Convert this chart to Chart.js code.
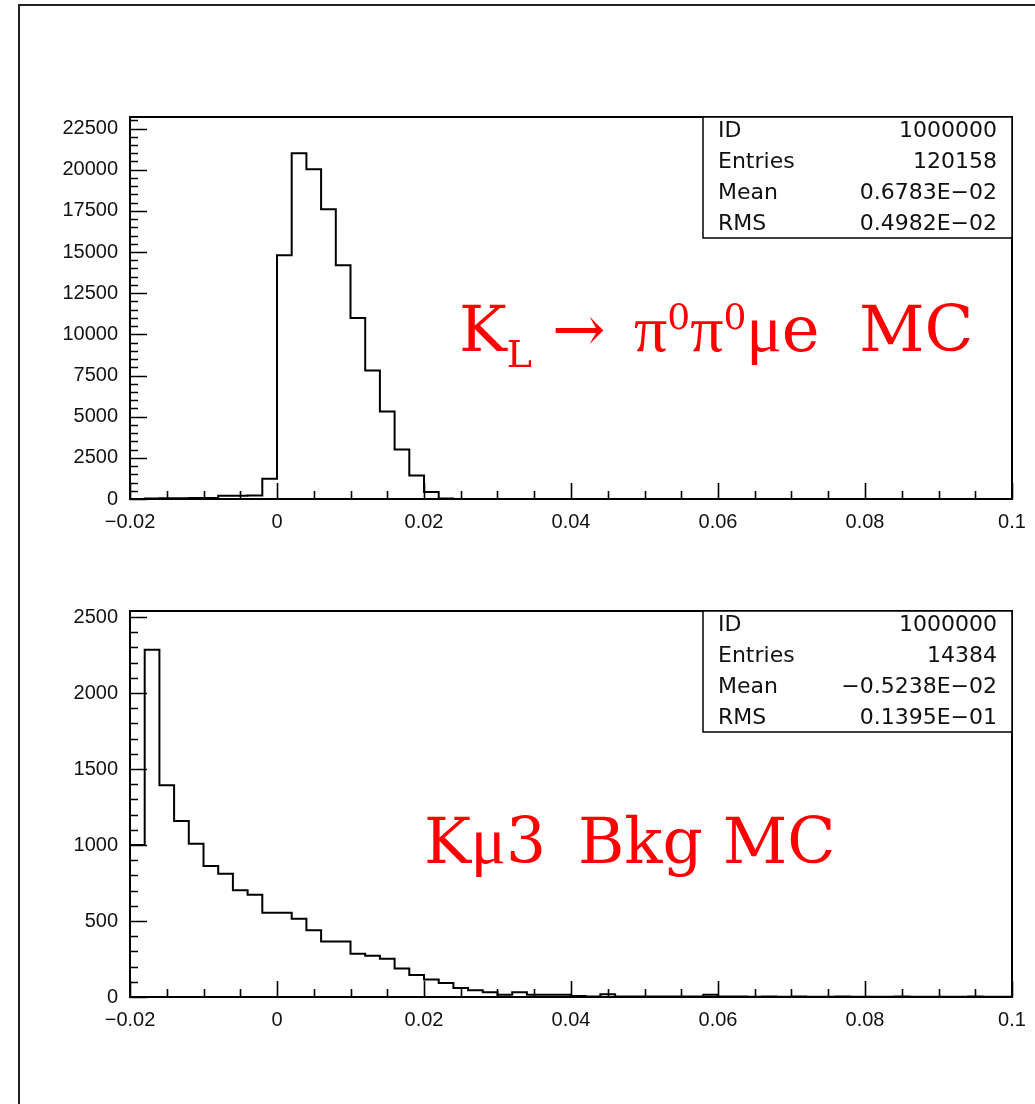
<!DOCTYPE html>
<html>
<head>
<meta charset="utf-8">
<script src="https://cdn.jsdelivr.net/npm/chart.js@4.4.1/dist/chart.umd.min.js"></script>
<style>
  html, body { margin: 0; padding: 0; background: #fff; }
  #page { position: relative; width: 1035px; height: 1104px; overflow: hidden; background: #fff; }
  #frame { position: absolute; left: 18px; top: 4px; width: 1100px; height: 1200px; border: 2px solid #222; box-sizing: border-box; }
  canvas { position: absolute; left: 0; }
  #c1 { top: 95px; }
  #c2 { top: 590px; }
</style>
</head>
<body>
<div id="page">
  <div id="frame"></div>
  <canvas id="c1" width="1035" height="450"></canvas>
  <canvas id="c2" width="1035" height="450"></canvas>
</div>
<script>
// Histogram binning shared by both plots: 60 bins from -0.02 to 0.1
const xLow = -0.02;
const xHigh = 0.1;
const nBins = 60;

// x tick labels
const xTickValues = [-0.02, 0, 0.02, 0.04, 0.06, 0.08, 0.1];
const xTickLabels = ["\u22120.02", "0", "0.02", "0.04", "0.06", "0.08", "0.1"];

// y tick labels
const signalYTicks = [0, 2500, 5000, 7500, 10000, 12500, 15000, 17500, 20000, 22500];
const bkgYTicks = [0, 500, 1000, 1500, 2000, 2500];

// K_L -> pi0 pi0 mu e signal MC, counts per bin
const signalCounts = [
  0, 30, 40, 45, 55, 60, 190, 200, 210, 1230,
  14800, 21000, 20030, 17600, 14200, 11000, 7800, 5320, 3000, 1430,
  430, 30, 0, 0, 0, 0, 0, 0, 0, 0,
  0, 0, 0, 0, 0, 0, 0, 0, 0, 0,
  0, 0, 0, 0, 0, 0, 0, 0, 0, 0,
  0, 0, 0, 0, 0, 0, 0, 0, 0, 0
];

// K mu3 background MC, counts per bin
const bkgCounts = [
  1000, 2285, 1393, 1158, 1009, 862, 811, 702, 673, 555,
  555, 515, 439, 366, 366, 285, 272, 252, 187, 145,
  115, 92, 60, 44, 31, 15, 31, 15, 15, 15,
  6, 4, 18, 4, 4, 3, 4, 3, 4, 15,
  3, 3, 2, 3, 2, 3, 2, 2, 3, 2,
  2, 2, 3, 2, 2, 2, 2, 3, 2, 2
];

// y axis ranges
const signalYMax = 23200;
const bkgYMax = 2540;

// statistics boxes
const signalStats = [["ID", "1000000"], ["Entries", "120158"], ["Mean", "0.6783E\u221202"], ["RMS", "0.4982E\u221202"]];
const bkgStats = [["ID", "1000000"], ["Entries", "14384"], ["Mean", "\u22120.5238E\u221202"], ["RMS", "0.1395E\u221201"]];

const binWidth = (xHigh - xLow) / nBins;

// outline points for a stepped histogram drawn from the bin contents
function histPoints(counts) {
  const pts = [{ x: xLow, y: 0 }];
  counts.forEach((c, i) => pts.push({ x: xLow + i * binWidth, y: c }));
  pts.push({ x: xHigh, y: 0 });
  return pts;
}

const tickFont = { family: '"Liberation Sans", Arial, sans-serif', size: 20 };
const serif = '"DejaVu Serif", serif';
const greek = '"Liberation Serif", serif';

// frame, inward tick marks, statistics box and caption
function pawPlugin(cfg) {
  return {
    id: 'paw',
    afterDatasetsDraw(chart) {
      const ctx = chart.ctx;
      const a = chart.chartArea;
      const xs = chart.scales.x, ys = chart.scales.y;
      ctx.save();
      ctx.strokeStyle = '#000';
      ctx.lineWidth = 2;
      ctx.strokeRect(a.left, a.top, a.right - a.left, a.bottom - a.top);
      ctx.lineWidth = 1.6;
      ctx.beginPath();
      // x ticks: minor every 0.005, major every 0.02
      for (let k = 0; k <= 24; k++) {
        const v = xLow + k * 0.005;
        const px = Math.round(xs.getPixelForValue(v)) + 0.5;
        const len = (k % 4 === 0) ? 16 : 8;
        ctx.moveTo(px, a.bottom);
        ctx.lineTo(px, a.bottom - len);
      }
      // y ticks
      for (let v = 0; v <= cfg.yMax + 1e-6; v += cfg.yMinor) {
        const py = Math.round(ys.getPixelForValue(v)) + 0.5;
        const major = Math.abs(v / cfg.yMajor - Math.round(v / cfg.yMajor)) < 1e-6;
        ctx.moveTo(a.left, py);
        ctx.lineTo(a.left + (major ? 17 : 8), py);
      }
      ctx.stroke();

      // statistics box
      const bx = a.left + 573, by = a.top, bw = a.right - bx, bh = 121;
      ctx.fillStyle = '#fff';
      ctx.fillRect(bx, by, bw, bh);
      ctx.lineWidth = 1.5;
      ctx.strokeRect(bx, by, bw, bh);
      ctx.fillStyle = '#111';
      ctx.font = '22px "DejaVu Sans", sans-serif';
      ctx.textBaseline = 'middle';
      cfg.stats.forEach((row, i) => {
        const ty = by + 14 + i * 31;
        ctx.textAlign = 'left';
        ctx.fillText(row[0], bx + 15, ty);
        ctx.textAlign = 'right';
        ctx.fillText(row[1], a.right - 15, ty);
      });

      // red caption
      ctx.fillStyle = '#ff0000';
      ctx.textAlign = 'left';
      ctx.textBaseline = 'alphabetic';
      let x = 0;
      const base = cfg.caption.y;
      cfg.caption.parts.forEach(p => {
        ctx.font = p.size + 'px ' + (p.font || serif);
        if (p.at !== undefined) x = p.at;
        x += (p.gap || 0);
        ctx.fillText(p.t, x, base + (p.dy || 0));
        x += ctx.measureText(p.t).width;
      });
      ctx.restore();
    }
  };
}

function makeChart(id, counts, yMax, yTicks, yMajor, yMinor, padTop, xHeight, stats, caption) {
  return new Chart(document.getElementById(id), {
    type: 'line',
    data: {
      datasets: [{
        data: histPoints(counts),
        stepped: true,
        borderColor: '#000',
        borderWidth: 2,
        pointRadius: 0,
        fill: false,
        tension: 0
      }]
    },
    options: {
      responsive: false,
      animation: false,
      events: [],
      layout: { padding: { left: 0, right: 23, top: padTop, bottom: 0 }, autoPadding: false },
      plugins: { legend: { display: false }, tooltip: { enabled: false } },
      scales: {
        x: {
          type: 'linear',
          min: xLow,
          max: xHigh,
          afterFit: s => { s.height = xHeight; s.paddingLeft = 0; s.paddingRight = 0; },
          afterBuildTicks: s => { s.ticks = xTickValues.map(v => ({ value: v })); },
          grid: { display: false, drawTicks: false },
          border: { display: false },
          ticks: {
            font: tickFont,
            color: '#111',
            padding: 11,
            maxRotation: 0,
            autoSkip: false,
            callback: (v) => {
              const i = xTickValues.findIndex(t => Math.abs(t - v) < 1e-9);
              return i >= 0 ? xTickLabels[i] : '';
            }
          }
        },
        y: {
          type: 'linear',
          min: 0,
          max: yMax,
          afterFit: s => { s.width = 130; s.paddingTop = 0; s.paddingBottom = 0; },
          afterBuildTicks: s => { s.ticks = yTicks.map(v => ({ value: v })); },
          grid: { display: false, drawTicks: false },
          border: { display: false },
          ticks: {
            font: tickFont,
            color: '#111',
            padding: 12,
            autoSkip: false,
            callback: v => String(v)
          }
        }
      }
    },
    plugins: [pawPlugin({ yMax, yMajor, yMinor, stats, caption })]
  });
}

makeChart('c1', signalCounts, signalYMax, signalYTicks, 2500, 500, 22, 46, signalStats, {
  y: 256,
  parts: [
    { t: 'K', size: 64, at: 459 },
    { t: 'L', size: 38, dy: 16 },
    { t: '\u2192', size: 64, at: 552 },
    { t: '\u03c0', size: 66, at: 634, font: greek },
    { t: '0', size: 36, dy: -22 },
    { t: '\u03c0', size: 66, font: greek },
    { t: '0', size: 36, dy: -22 },
    { t: '\u03bc', size: 66, font: greek },
    { t: 'e', size: 64 },
    { t: 'MC', size: 64, at: 859 }
  ]
});

makeChart('c2', bkgCounts, bkgYMax, bkgYTicks, 500, 100, 21, 43, bkgStats, {
  y: 273,
  parts: [
    { t: 'K', size: 63, at: 424 },
    { t: '\u03bc', size: 65, font: greek },
    { t: '3', size: 63 },
    { t: 'Bkg MC', size: 63, at: 578 }
  ]
});
</script>
</body>
</html>
